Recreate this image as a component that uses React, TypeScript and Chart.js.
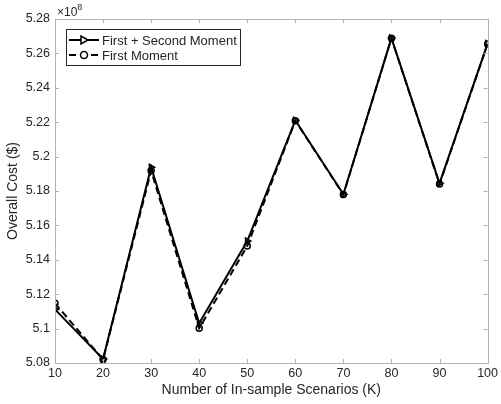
import React, { useEffect, useRef } from "react";
import { Chart, registerables } from "chart.js";

Chart.register(...registerables);

const scenarios = [10, 20, 30, 40, 50, 60, 70, 80, 90, 100];
const firstSecond = [5.1112, 5.0823, 5.1938, 5.1031, 5.1509, 5.2211, 5.1781, 5.2689, 5.1845, 5.2657];
const firstOnly = [5.1147, 5.0820, 5.1918, 5.1002, 5.1480, 5.2209, 5.1779, 5.2688, 5.1840, 5.2655];
const yTicks = [5.08, 5.1, 5.12, 5.14, 5.16, 5.18, 5.2, 5.22, 5.24, 5.26, 5.28];
const xTicks = [10, 20, 30, 40, 50, 60, 70, 80, 90, 100];
const seriesLabels = ["First + Second Moment", "First Moment"];

const FONT = "'Liberation Sans', Arial, Helvetica, sans-serif";
const TEXT = "#262626";
const AXIS = "#b3b3b3";

const decorPlugin = {
  id: "matlabDecor",
  afterDraw(chart: any) {
    const ctx = chart.ctx;
    const { left, right, top, bottom } = chart.chartArea;
    const xs = chart.scales.x;
    const ys = chart.scales.y;
    ctx.save();
    ctx.strokeStyle = AXIS;
    ctx.lineWidth = 1;
    ctx.beginPath();
    ctx.rect(Math.round(left) + 0.5, Math.round(top) + 0.5, Math.round(right - left), Math.round(bottom - top));
    ctx.stroke();
    const tl = 4;
    ctx.beginPath();
    xTicks.forEach((v) => {
      const px = Math.round(xs.getPixelForValue(v)) + 0.5;
      ctx.moveTo(px, bottom);
      ctx.lineTo(px, bottom - tl);
      ctx.moveTo(px, top);
      ctx.lineTo(px, top + tl);
    });
    yTicks.forEach((v) => {
      const py = Math.round(ys.getPixelForValue(v)) + 0.5;
      ctx.moveTo(left, py);
      ctx.lineTo(left + tl, py);
      ctx.moveTo(right, py);
      ctx.lineTo(right - tl, py);
    });
    ctx.stroke();

    ctx.fillStyle = TEXT;
    ctx.textBaseline = "alphabetic";
    ctx.textAlign = "left";
    ctx.font = `12px ${FONT}`;
    ctx.fillText("\u00d710", left + 2, top - 3);
    const w = ctx.measureText("\u00d710").width;
    ctx.font = `9px ${FONT}`;
    ctx.fillText("8", left + 2 + w, top - 9);

    const lx = 66, ly = 29, lw = 174, lh = 36;
    ctx.fillStyle = "#ffffff";
    ctx.fillRect(lx, ly, lw, lh);
    ctx.strokeStyle = "#262626";
    ctx.lineWidth = 1;
    ctx.strokeRect(lx + 0.5, ly + 0.5, lw, lh);
    const rows = [ly + 11, ly + 26];
    chart.data.datasets.forEach((ds: any, i: number) => {
      const y = rows[i];
      ctx.strokeStyle = "#000";
      ctx.lineWidth = 2;
      ctx.setLineDash(ds.borderDash || []);
      ctx.beginPath();
      ctx.moveTo(69, y);
      ctx.lineTo(99, y);
      ctx.stroke();
      ctx.setLineDash([]);
      ctx.lineWidth = 1.5;
      ctx.fillStyle = "#fff";
      ctx.beginPath();
      if (i === 0) {
        ctx.moveTo(88, y);
        ctx.lineTo(81, y - 4);
        ctx.lineTo(81, y + 4);
        ctx.closePath();
      } else {
        ctx.arc(84, y, 3.5, 0, Math.PI * 2);
      }
      ctx.fill();
      ctx.stroke();
      ctx.fillStyle = TEXT;
      ctx.font = `13px ${FONT}`;
      ctx.textBaseline = "middle";
      ctx.fillText(ds.label, 102, y + 1);
    });
    ctx.restore();
  },
};

export default function App() {
  const ref = useRef<HTMLCanvasElement | null>(null);
  useEffect(() => {
    document.body.style.margin = "0";
    const canvas = ref.current!;
    const chart = new Chart(canvas, {
      type: "line",
      data: {
        datasets: [
          {
            label: seriesLabels[0],
            data: scenarios.map((x, i) => ({ x, y: firstSecond[i] })),
            borderColor: "#000",
            backgroundColor: "#fff",
            borderWidth: 2,
            pointStyle: "triangle",
            rotation: 90,
            pointRadius: 3.5,
            pointBorderWidth: 1.5,
            pointBackgroundColor: "rgba(255,255,255,0)",
            pointBorderColor: "#000",
          },
          {
            label: seriesLabels[1],
            data: scenarios.map((x, i) => ({ x, y: firstOnly[i] })),
            borderColor: "#000",
            backgroundColor: "#fff",
            borderWidth: 2,
            borderDash: [7, 4],
            pointStyle: "circle",
            pointRadius: 3,
            pointBorderWidth: 1.5,
            pointBackgroundColor: "rgba(255,255,255,0)",
            pointBorderColor: "#000",
          },
        ],
      },
      options: {
        responsive: false,
        animation: false,
        layout: { padding: { top: 19, right: 10, left: 0, bottom: 0 } },
        plugins: { legend: { display: false }, tooltip: { enabled: false } },
        scales: {
          x: {
            type: "linear",
            min: 10,
            max: 100,
            afterFit: (s: any) => { s.height = 41; },
            afterBuildTicks: (s: any) => { s.ticks = xTicks.map((v) => ({ value: v })); },
            grid: { display: false, drawTicks: false },
            border: { display: false },
            ticks: { color: TEXT, font: { family: FONT, size: 12.5 }, padding: 3 },
            title: { display: true, text: "Number of In-sample Scenarios (K)", color: TEXT, font: { family: FONT, size: 14 }, padding: { top: 0, bottom: 5 } },
          },
          y: {
            type: "linear",
            min: 5.08,
            max: 5.28,
            afterFit: (s: any) => { s.width = 55; },
            afterBuildTicks: (s: any) => { s.ticks = yTicks.map((v) => ({ value: v })); },
            grid: { display: false, drawTicks: false },
            border: { display: false },
            ticks: {
              color: TEXT,
              font: { family: FONT, size: 12.5 },
              padding: 5,
              callback: (v: any) => String(parseFloat(Number(v).toFixed(2))),
            },
            title: { display: true, text: "Overall Cost ($)", color: TEXT, font: { family: FONT, size: 14 }, padding: { top: 5, bottom: 2 } },
          },
        },
      },
      plugins: [decorPlugin],
    });
    return () => chart.destroy();
  }, []);
  return <canvas ref={ref} width={501} height={404} style={{ display: "block" }} />;
}
